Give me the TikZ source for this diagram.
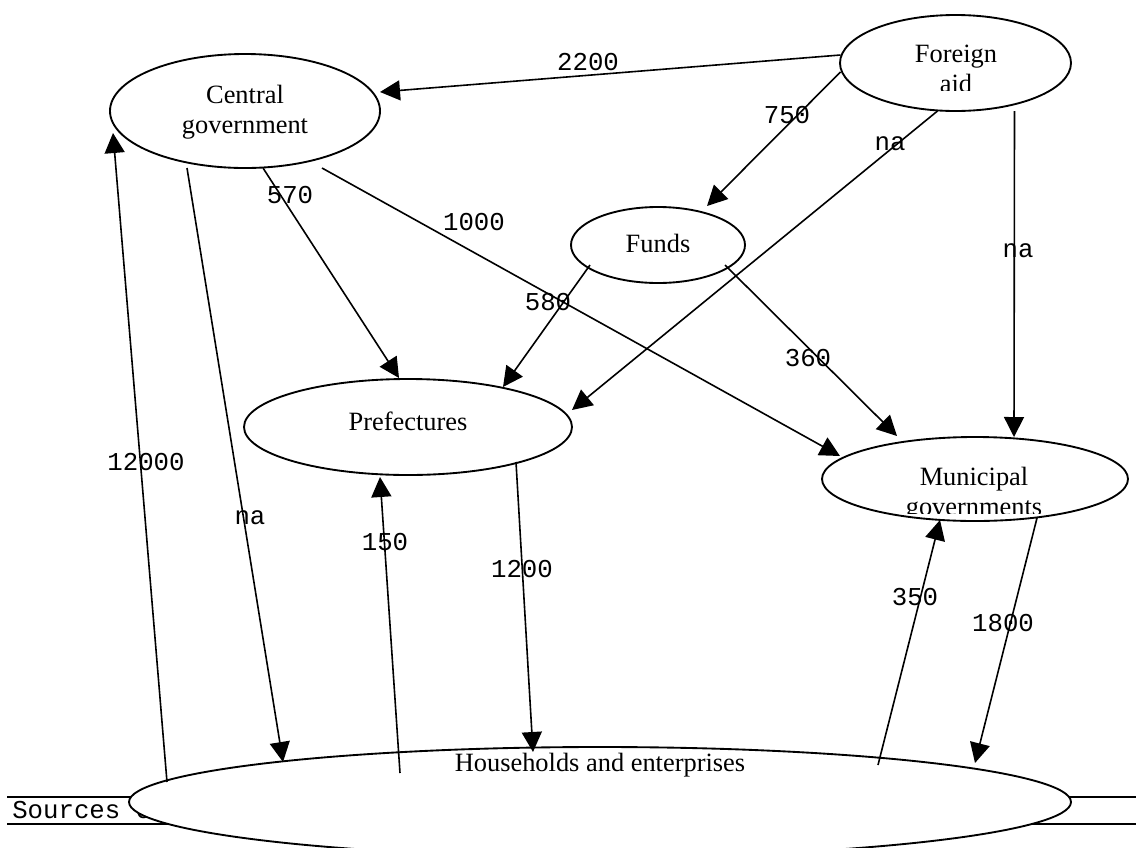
\documentclass[tikz,border=0pt]{standalone}
\usepackage{fontspec}
\setmainfont{Liberation Serif}
\setmonofont{Liberation Mono}
\usetikzlibrary{arrows.meta,shapes.geometric,calc}
\begin{document}
\begin{tikzpicture}[x=0.75pt,y=-0.75pt,
  box/.style={draw,ellipse,line width=1.4pt,fill=white,inner sep=0pt,outer sep=0pt},
  conn/.style={line width=1.2pt,-{Triangle[length=15pt,width=15pt]}},
  lab/.style={font=\ttfamily\fontsize{19.3}{23}\selectfont,anchor=base,inner sep=0pt},
  txt/.style={font=\fontsize{19.8}{24}\selectfont,anchor=base,inner sep=0pt},
  rulestyle/.style={line width=1.5pt}]
\useasboundingbox (0,0) rectangle (1136,847);
\clip (0,0) rectangle (1136,847);

% table rules behind the bottom ellipse
\coordinate (r1a) at (7,797);  \coordinate (r1b) at (1136,797);
\coordinate (r2a) at (7,824);  \coordinate (r2b) at (1136,824);
\draw[rulestyle] (r1a) -- (r1b);
\draw[rulestyle] (r2a) -- (r2b);
\node[lab,anchor=base west] (src) at (12,818) {Sources of};

% ellipses
\node[box,minimum width=202.5pt,minimum height=85.5pt] (cg) at (245,111) {};
\node[box,minimum width=173.25pt,minimum height=72pt] (fa) at (955.5,63) {};
\node[box,minimum width=130.5pt,minimum height=57pt] (fu) at (658,245) {};
\node[box,minimum width=246pt,minimum height=72pt] (pr) at (408,427) {};
\node[box,minimum width=229.5pt,minimum height=63pt] (mu) at (975,479) {};
\node[box,minimum width=706.5pt,minimum height=82.5pt] (hh) at (600,802) {};

% ellipse texts
\node[txt] (tcg1) at (245,103) {Central};
\node[txt] (tcg2) at (245,133) {government};
\node[txt] (tfa1) at (956,62) {Foreign};
\begin{scope}
  \clip (840,0) rectangle (1075,90);
  \node[txt] (tfa2) at (956,92) {aid};
\end{scope}
\node[txt] (tfu) at (658,252) {Funds};
\node[txt] (tpr) at (408,430) {Prefectures};
\node[txt] (tmu1) at (974,485) {Municipal};
\begin{scope}
  \clip (820,440) rectangle (1130,513);
  \node[txt] (tmu2) at (974,515) {governments};
\end{scope}
\node[txt] (thh) at (600,771) {Households and enterprises};

% connectors
\draw[conn] ($(fa.center)+(-115,-8)$) -- ($(cg.center)+(135,-19)$);
\draw[conn] ($(fa.center)+(-115,9)$) -- ($(fu.center)+(49,-39)$);
\draw[conn] ($(fa.center)+(-18,48)$) -- ($(pr.center)+(164,-17)$);
\draw[conn] ($(fa.center)+(59,48)$) -- ($(mu.center)+(39,-42)$);
\draw[conn] ($(cg.center)+(18,57)$) -- ($(pr.center)+(-9,-49)$);
\draw[conn] ($(cg.center)+(77,57)$) -- ($(mu.center)+(-135,-23)$);
\draw[conn] ($(fu.center)+(-68,20)$) -- ($(pr.center)+(95,-40)$);
\draw[conn] ($(fu.center)+(67,20)$) -- ($(mu.center)+(-78,-43)$);
\draw[conn] ($(cg.center)+(-58,57)$) -- ($(hh.center)+(-317,-40)$);
\draw[conn] ($(hh.center)+(-433,-20)$) -- ($(cg.center)+(-132,22)$);
\draw[conn] ($(hh.center)+(-200,-29)$) -- ($(pr.center)+(-28,50)$);
\draw[conn] ($(pr.center)+(108,35)$) -- ($(hh.center)+(-67,-50)$);
\draw[conn] ($(hh.center)+(278,-37)$) -- ($(mu.center)+(-35,41)$);
\draw[conn] ($(mu.center)+(62,39)$) -- ($(hh.center)+(375,-39)$);

% labels
\node[lab] (l2200) at (588,70) {2200};
\node[lab] (l750) at (787,123) {750};
\node[lab] (lna1) at (890,150) {na};
\node[lab] (lna2) at (1018,257) {na};
\node[lab] (l570) at (290,203) {570};
\node[lab] (l1000) at (474,230) {1000};
\node[lab] (l580) at (548,310) {580};
\node[lab] (l360) at (808,366) {360};
\node[lab] (l12000) at (146,470) {12000};
\node[lab] (lna3) at (250,524) {na};
\node[lab] (l150) at (385,550) {150};
\node[lab] (l1200) at (522,577) {1200};
\node[lab] (l350) at (915,605) {350};
\node[lab] (l1800) at (1003,631) {1800};
\end{tikzpicture}
\end{document}
